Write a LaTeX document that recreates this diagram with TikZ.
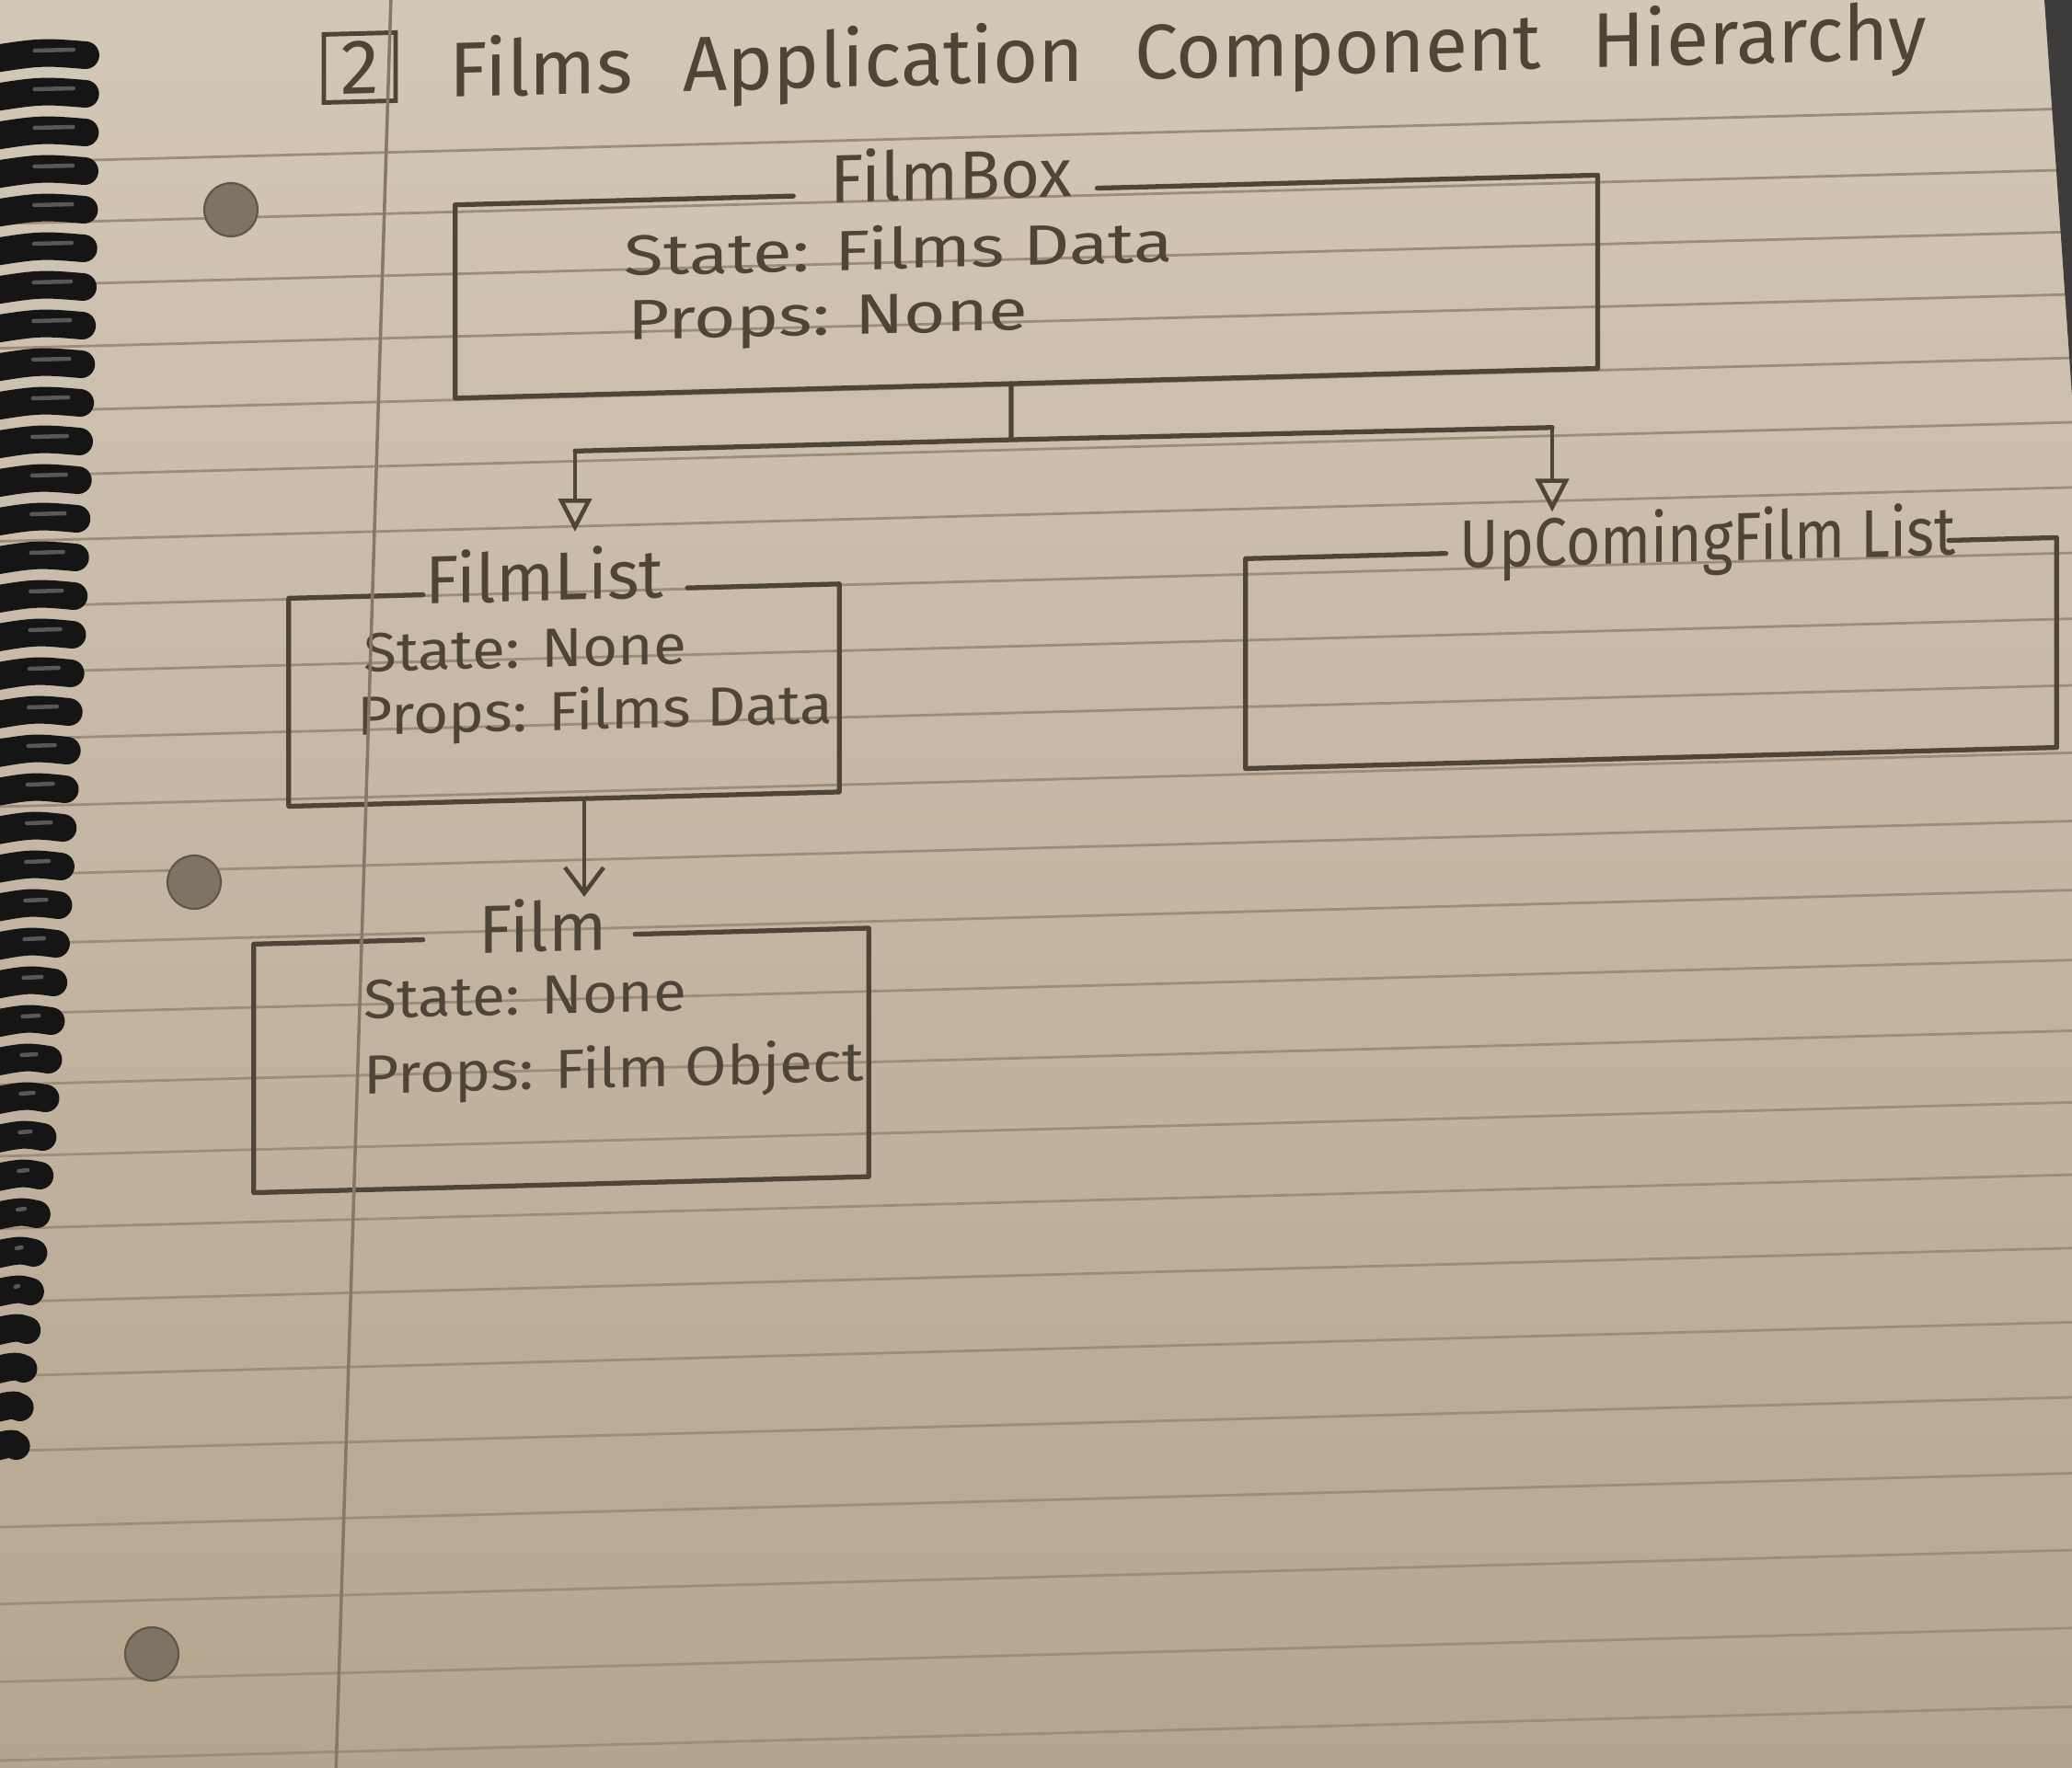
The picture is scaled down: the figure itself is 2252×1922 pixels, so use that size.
\documentclass[tikz,border=0pt]{standalone}
\usepackage{fontspec}
\setmainfont{Fira Sans}
\usetikzlibrary{arrows.meta,calc,shadings}

\definecolor{paperTop}{HTML}{D3C7B6}
\definecolor{paperBot}{HTML}{B6A58E}
\definecolor{inkc}{HTML}{4E4536}
\definecolor{rulec}{HTML}{9C8C78}
\definecolor{marginc}{HTML}{877764}
\definecolor{wire}{HTML}{161515}
\definecolor{wirehi}{HTML}{5A5856}
\definecolor{holec}{HTML}{7F7363}
\definecolor{deskc}{HTML}{3E3C3A}

% outline of a component box, leaving a gap in the top edge for its name
\newcommand\gapbox[3]{%
  \draw[ink] ($(#1.north west)!#3!(#1.north east)$) -- (#1.north east)
    -- (#1.south east) -- (#1.south west) -- (#1.north west)
    -- ($(#1.north west)!#2!(#1.north east)$);}

\begin{document}
\begin{tikzpicture}[x=0.01cm, y=-0.01cm,
  ink/.style={draw=inkc, line width=1.5pt, line cap=round, line join=round},
  compbox/.style={inner sep=0pt, outer sep=0pt, transform shape},
  comptitle/.style={text=inkc, inner sep=0pt, anchor=base, transform shape,
    font=\fontsize{21}{25}\selectfont},
  compfield/.style={text=inkc, inner sep=0pt, anchor=base west, transform shape,
    xscale=1.1, font=\fontsize{17}{21}\selectfont},
  bigfield/.style={compfield, xscale=1.27/1.1, font=\fontsize{17.5}{21}\selectfont},
  tri/.style={ink, line width=1.3pt,
    -{Triangle[open, length=0.36cm, width=0.36cm, line width=1.3pt]}},
  barb/.style={ink, line width=1.3pt,
    -{Straight Barb[length=0.28cm, width=0.42cm, line width=1.3pt]}},
  ruleline/.style={draw=rulec, line width=0.8pt},
  marginline/.style={draw=marginc, line width=1pt},
  coil/.style={draw=wire, line width=0.3cm, line cap=round},
  coilhi/.style={draw=wirehi, line width=0.045cm, line cap=round},
  hole/.style={fill=holec, draw=holec!75!black, line width=0.6pt}]

\useasboundingbox (0,0) rectangle (2252,1922);
\begin{scope}
\clip (0,0) rectangle (2252,1922);

% paper
\fill[top color=paperTop, bottom color=paperBot] (0,0) rectangle (2252,1922);

% page content, slightly sheared like the photographed sheet
\begin{scope}[cm={1,0.026,0,1,(0cm,-0.286cm)}]
  \foreach \v in {148,214.6,282,350,419,489,559.8,631,702.6,775,848.3,922.5,
                  997.6,1073.6,1150.5,1228.3,1307,1386.7,1467.3,1548.9,1631.5,
                  1715.1,1799.7,1885.3,1972}
    \draw[ruleline] (-60,\v) -- (2320,\v);

  % heading
  \node[draw=inkc, line width=1.4pt, minimum width=0.78cm, minimum height=0.74cm,
        inner sep=0pt, text=inkc, font=\fontsize{24}{28}\selectfont,
        transform shape] (num) at (391,55) {2};
  \node[text=inkc, anchor=base west, inner sep=0pt, transform shape,
        font=\fontsize{24}{29}\selectfont] (title) at (488,90)
        {Films\hspace{0.55cm}Application\hspace{0.55cm}Component\hspace{0.55cm}Hierarchy};

  % FilmBox
  \node[compbox, minimum width=12.41cm, minimum height=2.10cm] (fb) at (1115.5,312) {};
  \node[comptitle] (fbt) at (1034,215) {FilmBox};
  \node[bigfield] (fbs) at (678,289) {State: Films Data};
  \node[bigfield] (fbp) at (682,359) {Props: None};
  \gapbox{fb}{0.296}{0.562}

  % FilmList
  \node[compbox, minimum width=5.98cm, minimum height=2.26cm] (fl) at (613,743) {};
  \node[comptitle] (flt) at (592,640) {FilmList};
  \node[compfield] (fls) at (395,712) {State: None};
  \node[compfield] (flp) at (388,781) {Props: Films Data};
  \gapbox{fl}{0.244}{0.724}

  % Film
  \node[compbox, minimum width=6.68cm, minimum height=2.70cm] (fm) at (610,1140) {};
  \node[comptitle] (fmt) at (590,1021) {Film};
  \node[compfield] (fms) at (395,1089) {State: None};
  \node[compfield] (fmp) at (395,1171) {Props: Film Object};
  \gapbox{fm}{0.275}{0.62}

  % UpComingFilm List
  \node[compbox, minimum width=8.81cm, minimum height=2.28cm] (uf) at (1794.5,728) {};
  \node[comptitle, xscale=0.87] (uft) at (1856,630) {UpComingFilm List};
  \gapbox{uf}{0.247}{0.867}

  % connectors
  \coordinate (split) at (1099,478);
  \coordinate (jl) at (625,478);
  \coordinate (jr) at (1687,480);
  \draw[ink] (split |- fb.south) -- (split) -- (jl);
  \draw[ink] (split) -- (jr);
  \draw[tri, shorten >=0.16cm] (jl) -- (jl |- flt.north);
  \draw[tri] (jr) -- (jr |- uft.north);
  \draw[barb] ([xshift=0.22cm]fl.south) -- ([xshift=0.22cm]fl.south |- fmt.north);
\end{scope}

% margin rule
\draw[marginline] (425,-5) -- (365,1930);

% punched holes
\draw[hole] (251,228) circle (29);
\draw[hole] (211,959) circle (29);
\draw[hole] (165,1798) circle (29);

% spiral binding
\foreach \i in {0,...,36} {
  \pgfmathsetmacro\yy{60+42*\i}
  \pgfmathsetmacro\xe{108-0.000035*\yy*\yy}
  \draw[coil] (-30,\yy+8) .. controls (\xe*0.4,\yy-4) .. (\xe-15,\yy);
  \ifdim\xe pt>45pt
    \draw[coilhi] (\xe*0.35,\yy-5) -- (\xe-28,\yy-6);
  \fi
}

% desk showing past the page edge
\fill[deskc] (2222,0) -- (2252,0) -- (2252,430) -- cycle;
\end{scope}
\end{tikzpicture}
\end{document}
